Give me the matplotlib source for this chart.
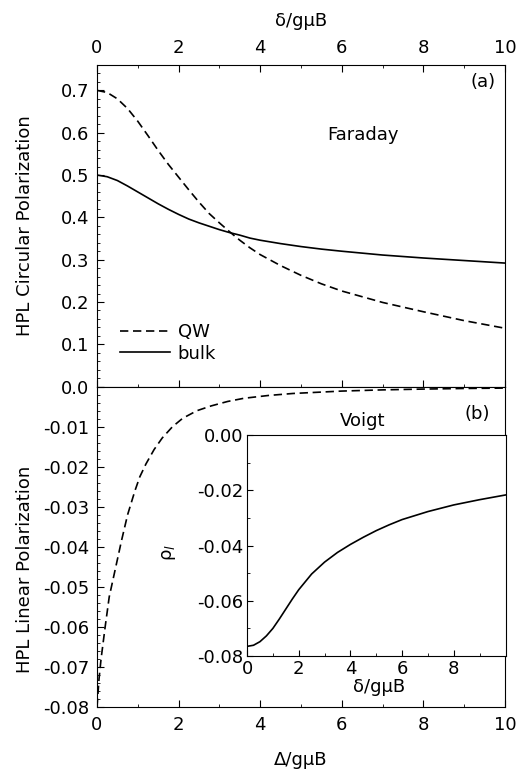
import numpy as np
import matplotlib
matplotlib.use("Agg")
import matplotlib.pyplot as plt
from matplotlib.ticker import MultipleLocator, FuncFormatter

plt.rcParams['font.family'] = ['DejaVu Sans']

# Faraday geometry (panel a)
x_far = [0, 0.25, 0.5, 0.75, 1, 1.25, 1.5, 1.75, 2, 2.25, 2.5, 2.75, 3, 3.25,
         3.5, 3.75, 4, 4.5, 5, 5.5, 6, 7, 8, 9, 10]
qw_circ = [0.700, 0.695, 0.680, 0.657, 0.627, 0.593, 0.558, 0.525, 0.495, 0.465,
           0.436, 0.409, 0.387, 0.366, 0.346, 0.328, 0.312, 0.286, 0.263, 0.243,
           0.226, 0.199, 0.177, 0.156, 0.138]
bulk_circ = [0.500, 0.496, 0.487, 0.474, 0.460, 0.446, 0.432, 0.419, 0.407, 0.396,
             0.387, 0.379, 0.371, 0.364, 0.358, 0.351, 0.346, 0.338, 0.331, 0.325,
             0.320, 0.311, 0.304, 0.298, 0.292]

# Voigt geometry (panel b)
x_voigt = [0, 0.05, 0.1, 0.2, 0.3, 0.45, 0.6, 0.75, 0.93, 1.05, 1.2, 1.4, 1.6,
           1.85, 2.1, 2.45, 2.8, 3.2, 3.6, 4.2, 4.8, 6, 7, 8, 9, 10]
qw_lin = [-0.0800, -0.0730, -0.0680, -0.0600, -0.0525, -0.0455, -0.0385, -0.0320,
          -0.0260, -0.0225, -0.0193, -0.0157, -0.0128, -0.0100, -0.0079, -0.0060,
          -0.0048, -0.0037, -0.0029, -0.0022, -0.0017, -0.0011, -0.0008, -0.0006,
          -0.00045, -0.00035]

# inset: bulk linear polarization
x_ins = [0, 0.25, 0.5, 0.75, 1, 1.25, 1.5, 1.75, 2, 2.5, 3, 3.5, 4, 4.5, 5, 5.5,
         6, 7, 8, 9, 10]
rho_l = [-0.0765, -0.0761, -0.0748, -0.0727, -0.0700, -0.0666, -0.0630, -0.0594,
         -0.0560, -0.0503, -0.0460, -0.0425, -0.0396, -0.0370, -0.0346, -0.0325,
         -0.0306, -0.0277, -0.0253, -0.0234, -0.0217]

fs = 13
fig = plt.figure(figsize=(5.17, 7.81), dpi=100)
axA = fig.add_axes([0.1876, 0.5049, 0.7892, 0.4119])
axB = fig.add_axes([0.1876, 0.0948, 0.7892, 0.4101])
axI = fig.add_axes([0.4778, 0.1600, 0.5000, 0.2830])

dash = (0, (5, 2.8))
lw = 1.2

# panel (a)
axA.plot(x_far, qw_circ, color='black', lw=lw, linestyle=dash, label='QW')
axA.plot(x_far, bulk_circ, color='black', lw=lw, label='bulk')
axA.set_xlim(0, 10)
axA.set_ylim(0, 0.76)
axA.xaxis.tick_top()
axA.xaxis.set_label_position('top')
axA.set_xlabel('δ/gμB', fontsize=fs)
axA.xaxis.set_label_coords(0.5, 1.121)
axA.set_ylabel('HPL Circular Polarization', fontsize=fs)
axA.yaxis.set_label_coords(-0.155, 0.5)
axA.xaxis.set_major_locator(MultipleLocator(2))
axA.xaxis.set_minor_locator(MultipleLocator(1))
axA.yaxis.set_major_locator(MultipleLocator(0.1))
axA.yaxis.set_minor_locator(MultipleLocator(0.02))
axA.tick_params(which='both', direction='in', top=True, bottom=True,
                right=False, labelbottom=False, labelsize=fs)
axA.tick_params(axis='x', pad=5.5)
axA.tick_params(axis='y', pad=5.5)
axA.tick_params(which='major', length=5)
axA.tick_params(which='minor', length=2.5)
axA.yaxis.set_major_formatter(FuncFormatter(lambda v, p: f'{v:.1f}'))
axA.legend(loc='lower left', frameon=False, fontsize=fs, handlelength=2.8,
           handletextpad=0.4, labelspacing=0.2, borderpad=0, borderaxespad=0,
           bbox_to_anchor=(0.056, 0.075))
axA.text(0.946, 0.947, '(a)', transform=axA.transAxes, ha='center', va='center', fontsize=fs)
axA.text(0.652, 0.782, 'Faraday', transform=axA.transAxes, ha='center', va='center', fontsize=fs)

# panel (b)
axB.plot(x_voigt, qw_lin, color='black', lw=lw, linestyle=dash)
axB.set_xlim(0, 10)
axB.set_ylim(-0.08, 0)
axB.xaxis.set_major_locator(MultipleLocator(2))
axB.xaxis.set_minor_locator(MultipleLocator(1))
axB.yaxis.set_major_locator(MultipleLocator(0.01))
axB.yaxis.set_minor_locator(MultipleLocator(0.002))
axB.tick_params(which='both', direction='in', top=False, right=False, labelsize=fs)
axB.tick_params(axis='x', pad=6.5)
axB.tick_params(axis='y', pad=5.5)
axB.tick_params(which='major', length=5)
axB.tick_params(which='minor', length=2.5)
axB.yaxis.set_major_formatter(FuncFormatter(lambda v, p: f'{v:.2f}' if v < -1e-9 else ''))
axB.set_xlabel('Δ/gμB', fontsize=fs)
axB.xaxis.set_label_coords(0.5, -0.137)
axB.set_ylabel('HPL Linear Polarization', fontsize=fs)
axB.yaxis.set_label_coords(-0.155, 0.43)
axB.text(0.931, 0.915, '(b)', transform=axB.transAxes, ha='center', va='center', fontsize=fs)

# inset
axI.plot(x_ins, rho_l, color='black', lw=lw)
axI.set_xlim(0, 10)
axI.set_ylim(-0.08, 0)
axI.set_xticks([0, 2, 4, 6, 8])
axI.xaxis.set_minor_locator(MultipleLocator(1))
axI.yaxis.set_major_locator(MultipleLocator(0.02))
axI.yaxis.set_minor_locator(MultipleLocator(0.01))
axI.tick_params(which='both', direction='in', top=False, right=False, labelsize=fs, pad=2.5)
axI.tick_params(which='major', length=4)
axI.tick_params(which='minor', length=2)
axI.yaxis.set_major_formatter(FuncFormatter(lambda v, p: f'{v:.2f}'))
axI.set_xlabel('δ/gμB', fontsize=fs)
axI.xaxis.set_label_coords(0.51, -0.10)
axI.set_ylabel('ρ$_l$', fontsize=fs)
axI.yaxis.set_label_coords(-0.267, 0.47)
axI.text(0.446, 1.041, 'Voigt', transform=axI.transAxes, ha='center', va='baseline', fontsize=fs)

fig.savefig('out.png', dpi=100)
